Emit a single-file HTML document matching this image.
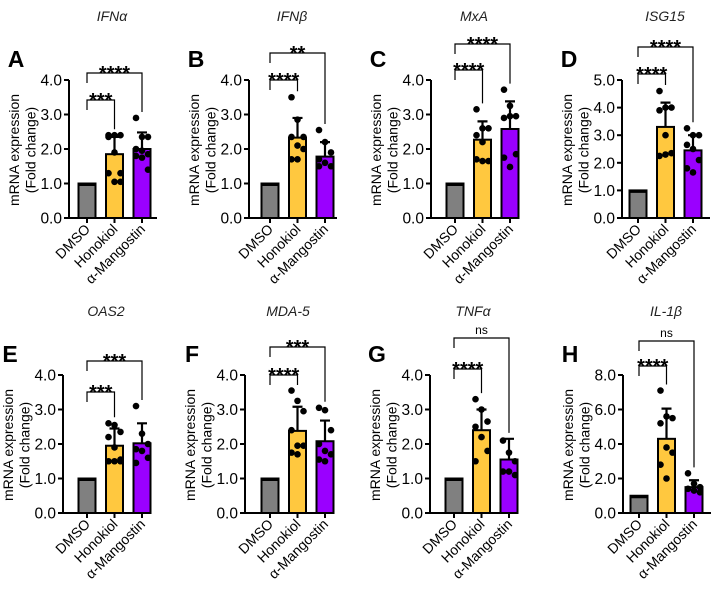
<!DOCTYPE html>
<html><head><meta charset="utf-8"><style>
body{margin:0;background:#fff;}
svg{display:block;font-family:"Liberation Sans",Arial,sans-serif;}
</style></head><body>
<svg id="fig" width="719" height="591" viewBox="0 0 719 591"></svg>
<script>
const genes = ["IFNα","IFNβ","MxA","ISG15","OAS2","MDA-5","TNFα","IL-1β"];
const letters = ["A","B","C","D","E","F","G","H"];
const groups = ["DMSO","Honokiol","α-Mangostin"];
const yMaxs = [4,4,4,5,4,4,4,8];
const tickSteps = [1,1,1,1,1,1,1,2];
const means = [[1,1.85,2.0],[1,2.33,1.78],[1,2.27,2.58],[1,3.3,2.45],[1,1.95,2.02],[1,2.38,2.08],[1,2.4,1.55],[1,4.3,1.5]];
const errTops = [[1,2.35,2.48],[1,2.9,2.2],[1,2.8,3.38],[1,4.18,3.0],[1,2.45,2.6],[1,3.08,2.68],[1,3.0,2.15],[1,6.05,1.9]];
const honPts = [[2.4,2.4,2.4,2.35,1.9,1.3,1.3,1.05,1.05],[3.5,2.85,2.35,2.35,2.1,2.0,1.7,1.7],[3.15,2.6,2.6,2.4,2.2,1.65,1.7,1.65],[4.6,4.0,4.0,3.9,3.0,2.35,2.25,2.3],[2.6,2.55,2.35,2.2,1.9,1.55,1.5,1.5,1.5],[3.55,3.25,2.95,2.4,1.95,1.95,1.75,1.7],[3.3,3.0,2.65,2.5,2.2,1.8,1.5],[7.1,5.6,5.5,5.2,3.8,3.5,2.8,2.0]];
const manPts = [[2.9,2.35,2.35,2.0,1.95,1.85,1.8,1.75,1.4],[2.55,2.2,1.9,1.7,1.6,1.5,1.5],[3.72,3.25,2.95,2.9,2.95,1.85,1.75,1.48],[3.25,3.0,3.0,2.65,2.5,2.1,1.8,1.65],[3.1,2.3,2.0,1.85,1.8,1.6,1.45],[3.05,2.98,2.4,2.0,1.8,1.7,1.55,1.5],[2.1,1.75,1.5,1.2,1.2,1.1],[2.3,1.7,1.5,1.4,1.3,1.2]];
const sigLow = ["***","****","****","****","***","****","****","****"];
const sigHigh = ["****","**","****","****","***","***","ns","ns"];

const axisXs = [69,249,431,622,63,245,430,623];
const firstOff = [18,21,24,16,24,25,24,16];
const bracketY = [[100,73],[80,53],[70,44],[74,47],[97,66],[80,52],[74,43],[71,46]];
const colors = ["#808080","#ffc83f","#9a00ff"];
const NS = "http://www.w3.org/2000/svg";
const svg = document.getElementById("fig");
function mk(tag, attrs, parent, text){
  const e = document.createElementNS(NS, tag);
  for (const k in attrs) e.setAttribute(k, attrs[k]);
  if (text !== undefined) e.textContent = text;
  (parent || svg).appendChild(e);
  return e;
}
for (let p = 0; p < 8; p++){
  const row = p < 4 ? 0 : 1;
  const oy = row * 295;
  const ax = axisXs[p];
  const y0 = 218 + oy, yTop = 80 + oy;
  const ys = v => y0 - v / yMaxs[p] * (y0 - yTop);
  const bx = i => ax + firstOff[p] + i * 27.5;
  const g = mk("g", {});
  
  
  const t = mk("text", {x: ax + 43, y: 21 + oy, "text-anchor": "middle", "font-size": 14, "font-style": "italic", fill: "#222"}, g, genes[p]);
  
  
  const L = mk("text", {x: ax - 53, y: 67 + oy, "text-anchor": "middle", "font-size": 23, "font-weight": "bold", fill: "#000"}, g, letters[p]);
  
  
  const yl = mk("text", {transform: `translate(${ax - 50},${150 + oy}) rotate(-90)`, "text-anchor": "middle", "font-size": 14, fill: "#000"}, g);
  
  
  mk("tspan", {x: 0, dy: 0}, yl, "mRNA expression");
  mk("tspan", {x: 0, dy: 16.5}, yl, "(Fold change)");
  for (let i = 0; i < 3; i++){
    const r = mk("rect", {x: bx(i) - 8.5, y: ys(means[p][i]), width: 17, height: y0 - ys(means[p][i]), fill: colors[i], stroke: "#000", "stroke-width": 2}, g);
    
    
    if (i === 0){
      mk("line", {x1: bx(i) - 8.5, x2: bx(i) + 8.5, y1: ys(means[p][i]) + 1, y2: ys(means[p][i]) + 1, stroke: "#000", "stroke-width": 3}, g);
    }
    if (i > 0){
      const e = mk("path", {d: `M${bx(i)},${ys(means[p][i])}V${ys(errTops[p][i])}M${bx(i)-5},${ys(errTops[p][i])}H${bx(i)+5}`, stroke: "#000", "stroke-width": 2.2, fill: "none"}, g);
      
      
      const pts = i === 1 ? honPts[p] : manPts[p];
      pts.forEach((v, k) => {
        const dx = ((k % 3) - 1) * 6;
        const c = mk("circle", {cx: bx(i) + dx, cy: ys(v), r: 3.3, fill: "#000"}, g);
        
        
      });
    }
  }
  const ya = mk("path", {d: `M${ax},${yTop}V${y0}H${ax + 88}`, stroke: "#000", "stroke-width": 2, fill: "none"}, g);
  
  
  for (let v = 0; v <= yMaxs[p] + 1e-9; v += tickSteps[p]){
    mk("line", {x1: ax - 5, x2: ax, y1: ys(v), y2: ys(v), stroke: "#000", "stroke-width": 2}, g);
    const tl = mk("text", {x: ax - 7, y: ys(v) + 5.5, "text-anchor": "end", "font-size": 15.5, fill: "#000"}, g, v.toFixed(1));
    
    
  }
  for (let i = 0; i < 3; i++){
    mk("line", {x1: bx(i), x2: bx(i), y1: y0, y2: y0 + 5, stroke: "#000", "stroke-width": 2}, g);
    const cl = mk("text", {transform: `translate(${bx(i) + 4},${y0 + 12}) rotate(-45)`, "text-anchor": "end", "font-size": 14, fill: "#000"}, g, groups[i]);
    
    
  }
  [[1, bracketY[p][0], sigLow[p]], [2, bracketY[p][1], sigHigh[p]]].forEach(([i, by, s]) => {
    const yb = by + oy;
    const pts = i === 1 ? honPts[p] : manPts[p];
    const top = Math.min(ys(Math.max(...pts)), ys(errTops[p][i])) - 6;
    const b = mk("path", {d: `M${bx(0)},${yb + 10}V${yb}H${bx(i)}V${Math.max(top, yb + 10)}`, stroke: "#000", "stroke-width": 1.2, fill: "none"}, g);
    
    
    const st = mk("text", {x: (bx(0) + bx(i)) / 2, y: yb + (s === "ns" ? -4 : 7), "text-anchor": "middle", "font-size": s === "ns" ? 12 : 20, "font-weight": s === "ns" ? "normal" : "bold", fill: "#000"}, g, s);
    
    
  });
}
</script>
</body></html>
